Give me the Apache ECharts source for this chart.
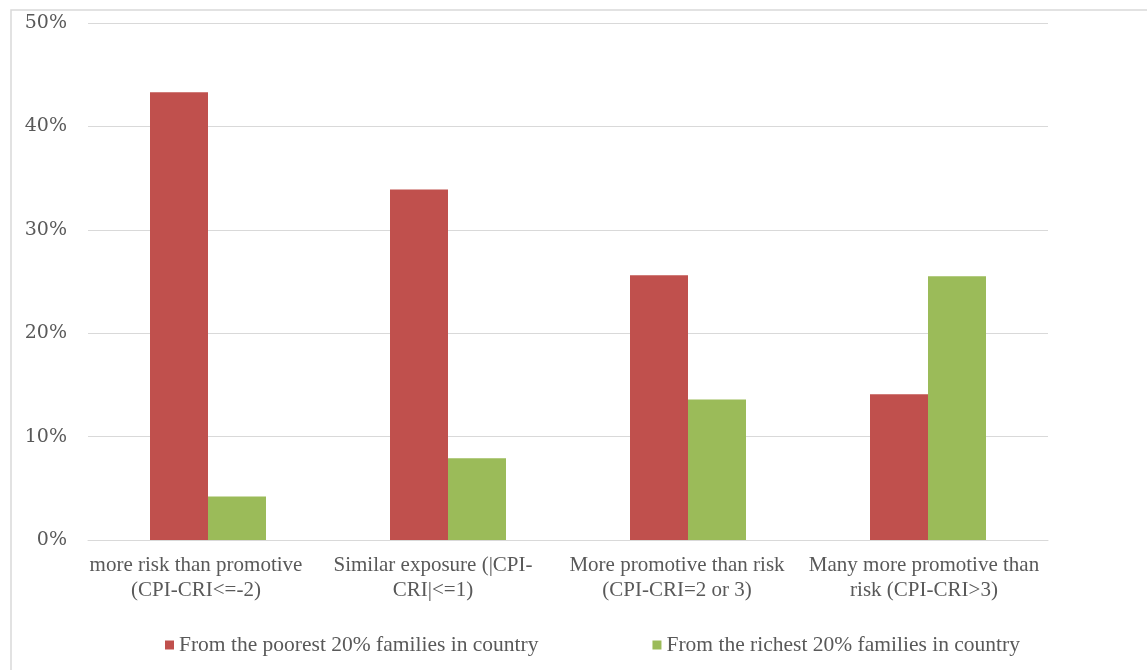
<!DOCTYPE html>
<html>
<head>
<meta charset="utf-8">
<script src="https://cdn.jsdelivr.net/npm/echarts@6/dist/echarts.min.js"></script>
<style>
  html, body { margin: 0; padding: 0; background: #fff; }
  #chart { width: 1147px; height: 670px; }
</style>
</head>
<body>
<div id="chart"></div>
<script>
// Exposure groups (CPI = promotive index, CRI = risk index)
const categories = [
  'more risk than promotive\n(CPI-CRI<=-2)',
  'Similar exposure (|CPI-\nCRI|<=1)',
  'More promotive than risk\n(CPI-CRI=2 or 3)',
  'Many more promotive than\nrisk (CPI-CRI>3)'
];
const seriesNames = [
  'From the poorest 20% families in country',
  'From the richest 20% families in country'
];
// Share of children in each group (%)
const poorest = [43.3, 33.9, 25.6, 14.1];
const richest = [4.2, 7.9, 13.6, 25.5];
const yTicks = { min: 0, max: 50, interval: 10 };

const chart = echarts.init(document.getElementById('chart'), null, { renderer: 'canvas' });
const textColor = '#595959';
const gridColor = '#d9d9d9';
const labelFont = { fontFamily: 'Liberation Serif', fontSize: 21, lineHeight: 25, color: textColor };

// each wrapped label sits slightly left of its slot centre, as in the word-processor layout
const labelShift = [24, 30, 22, 8];
const rich = {};
labelShift.forEach((s, i) => {
  rich['c' + i] = Object.assign({ padding: [0, s, 0, 0] }, labelFont);
});

chart.setOption({
  animation: false,
  backgroundColor: '#ffffff',
  graphic: [{
    type: 'rect',
    shape: { x: 11, y: 10, width: 1160, height: 700 },
    style: { fill: 'none', stroke: gridColor, lineWidth: 1.5 },
    silent: true
  }],
  grid: { left: 88, right: 99, top: 23, bottom: 130, containLabel: false },
  legend: {
    data: seriesNames,
    left: 160,
    top: 629,
    itemWidth: 9,
    itemHeight: 9,
    itemGap: 114,
    icon: 'rect',
    textStyle: { fontFamily: 'Liberation Serif', fontSize: 21.5, color: textColor }
  },
  xAxis: {
    type: 'category',
    data: categories,
    axisLine: { lineStyle: { color: gridColor, width: 1 } },
    axisTick: { show: false },
    axisLabel: {
      interval: 0,
      margin: 13,
      align: 'center',
      formatter: (value, index) =>
        value.split('\n').map(line => '{c' + index + '|' + line + '}').join('\n'),
      rich: rich
    }
  },
  yAxis: {
    type: 'value',
    min: yTicks.min,
    max: yTicks.max,
    interval: yTicks.interval,
    axisLine: { show: false },
    axisTick: { show: false },
    splitLine: { lineStyle: { color: gridColor, width: 1 } },
    axisLabel: {
      margin: 21,
      fontFamily: 'DejaVu Serif',
      fontSize: 19,
      color: textColor,
      formatter: v => v + '%'
    }
  },
  series: [
    {
      name: seriesNames[0],
      type: 'bar',
      data: poorest,
      barWidth: 58,
      barGap: '0%',
      itemStyle: { color: '#c0504d' }
    },
    {
      name: seriesNames[1],
      type: 'bar',
      data: richest,
      barWidth: 58,
      barGap: '0%',
      itemStyle: { color: '#9bbb59' }
    }
  ]
});
</script>
</body>
</html>
